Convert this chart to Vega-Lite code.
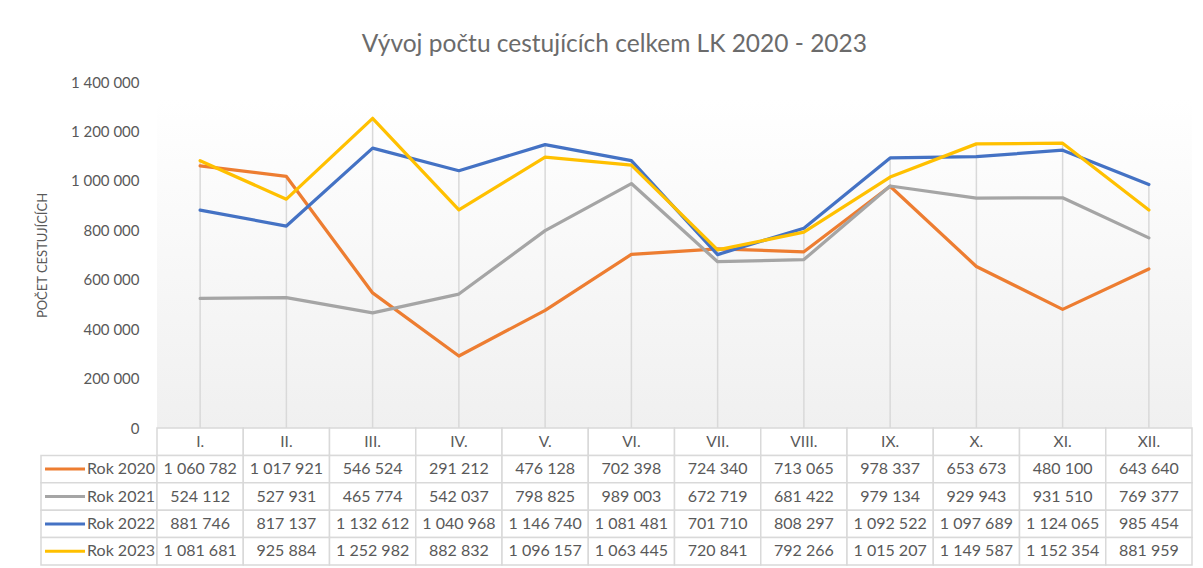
{
  "$schema": "https://vega.github.io/schema/vega-lite/v6.json",
  "padding": {"left": 36, "top": 31, "right": 5, "bottom": 0},
  "title": {"text": "Vývoj počtu cestujících celkem LK 2020  - 2023", "fontSize": 24.5, "fontWeight": "normal", "color": "#6b6b6b", "anchor": "middle", "offset": 18, "font": "Lato"},
  "config": {
    "font": "Lato",
    "view": {"stroke": null},
    "locale": {"number": {"decimal": ",", "thousands": " ", "grouping": [3], "currency": ["", ""]}}
  },
  "datasets": {
    "lk": [
      {"series": "Rok 2020", "month": "I.", "value": 1060782},
      {"series": "Rok 2020", "month": "II.", "value": 1017921},
      {"series": "Rok 2020", "month": "III.", "value": 546524},
      {"series": "Rok 2020", "month": "IV.", "value": 291212},
      {"series": "Rok 2020", "month": "V.", "value": 476128},
      {"series": "Rok 2020", "month": "VI.", "value": 702398},
      {"series": "Rok 2020", "month": "VII.", "value": 724340},
      {"series": "Rok 2020", "month": "VIII.", "value": 713065},
      {"series": "Rok 2020", "month": "IX.", "value": 978337},
      {"series": "Rok 2020", "month": "X.", "value": 653673},
      {"series": "Rok 2020", "month": "XI.", "value": 480100},
      {"series": "Rok 2020", "month": "XII.", "value": 643640},
      {"series": "Rok 2021", "month": "I.", "value": 524112},
      {"series": "Rok 2021", "month": "II.", "value": 527931},
      {"series": "Rok 2021", "month": "III.", "value": 465774},
      {"series": "Rok 2021", "month": "IV.", "value": 542037},
      {"series": "Rok 2021", "month": "V.", "value": 798825},
      {"series": "Rok 2021", "month": "VI.", "value": 989003},
      {"series": "Rok 2021", "month": "VII.", "value": 672719},
      {"series": "Rok 2021", "month": "VIII.", "value": 681422},
      {"series": "Rok 2021", "month": "IX.", "value": 979134},
      {"series": "Rok 2021", "month": "X.", "value": 929943},
      {"series": "Rok 2021", "month": "XI.", "value": 931510},
      {"series": "Rok 2021", "month": "XII.", "value": 769377},
      {"series": "Rok 2022", "month": "I.", "value": 881746},
      {"series": "Rok 2022", "month": "II.", "value": 817137},
      {"series": "Rok 2022", "month": "III.", "value": 1132612},
      {"series": "Rok 2022", "month": "IV.", "value": 1040968},
      {"series": "Rok 2022", "month": "V.", "value": 1146740},
      {"series": "Rok 2022", "month": "VI.", "value": 1081481},
      {"series": "Rok 2022", "month": "VII.", "value": 701710},
      {"series": "Rok 2022", "month": "VIII.", "value": 808297},
      {"series": "Rok 2022", "month": "IX.", "value": 1092522},
      {"series": "Rok 2022", "month": "X.", "value": 1097689},
      {"series": "Rok 2022", "month": "XI.", "value": 1124065},
      {"series": "Rok 2022", "month": "XII.", "value": 985454},
      {"series": "Rok 2023", "month": "I.", "value": 1081681},
      {"series": "Rok 2023", "month": "II.", "value": 925884},
      {"series": "Rok 2023", "month": "III.", "value": 1252982},
      {"series": "Rok 2023", "month": "IV.", "value": 882832},
      {"series": "Rok 2023", "month": "V.", "value": 1096157},
      {"series": "Rok 2023", "month": "VI.", "value": 1063445},
      {"series": "Rok 2023", "month": "VII.", "value": 720841},
      {"series": "Rok 2023", "month": "VIII.", "value": 792266},
      {"series": "Rok 2023", "month": "IX.", "value": 1015207},
      {"series": "Rok 2023", "month": "X.", "value": 1149587},
      {"series": "Rok 2023", "month": "XI.", "value": 1152354},
      {"series": "Rok 2023", "month": "XII.", "value": 881959}
    ],
    "months": [
      {"month": "I."}, {"month": "II."}, {"month": "III."}, {"month": "IV."},
      {"month": "V."}, {"month": "VI."}, {"month": "VII."}, {"month": "VIII."},
      {"month": "IX."}, {"month": "X."}, {"month": "XI."}, {"month": "XII."}
    ],
    "series": [
      {"series": "Rok 2020"}, {"series": "Rok 2021"}, {"series": "Rok 2022"}, {"series": "Rok 2023"}
    ]
  },
  "columns": 2,
  "spacing": 0,
  "bounds": "flush",
  "concat": [
    {
      "width": 116,
      "height": 346,
      "data": {"values": []},
      "mark": "point"
    },
    {
      "width": 1035,
      "height": 346,
      "data": {"name": "lk"},
      "layer": [
        {
          "transform": [{"aggregate": [{"op": "count", "as": "n"}]}],
          "mark": {
            "type": "rect",
            "fill": {"gradient": "linear", "x1": 0, "y1": 0, "x2": 0, "y2": 1,
              "stops": [{"offset": 0, "color": "#ffffff"}, {"offset": 0.05, "color": "#ffffff"}, {"offset": 1, "color": "#f0f0f0"}]}
          },
          "encoding": {
            "y": {"datum": 1400000, "type": "quantitative", "scale": {"domain": [0, 1400000], "nice": false},
              "axis": {"title": "POČET CESTUJÍCÍCH", "titleFontSize": 13, "titleColor": "#595959", "titleFontWeight": "normal", "titleX": -108,
                "labelFontSize": 15, "labelColor": "#595959", "labelPadding": 18, "ticks": false, "domain": false, "grid": false,
                "values": [0, 200000, 400000, 600000, 800000, 1000000, 1200000, 1400000], "format": ",d"}},
            "y2": {"datum": 0}
          }
        },
        {
          "transform": [{"aggregate": [{"op": "max", "field": "value", "as": "mx"}], "groupby": ["month"]}],
          "mark": {"type": "rule", "color": "#d9d9d9", "strokeWidth": 1.5},
          "encoding": {
            "x": {"field": "month", "type": "ordinal", "sort": ["I.", "II.", "III.", "IV.", "V.", "VI.", "VII.", "VIII.", "IX.", "X.", "XI.", "XII."], "scale": {"type": "point", "padding": 0.5}, "axis": null},
            "y": {"field": "mx", "type": "quantitative",
              "axis": {"title": "POČET CESTUJÍCÍCH", "titleFontSize": 13, "titleColor": "#595959", "titleFontWeight": "normal", "titleX": -108,
                "labelFontSize": 15, "labelColor": "#595959", "labelPadding": 18, "ticks": false, "domain": false, "grid": false,
                "values": [0, 200000, 400000, 600000, 800000, 1000000, 1200000, 1400000], "format": ",d"}},
            "y2": {"datum": 0}
          }
        },
        {
          "mark": {"type": "line", "strokeWidth": 3.25, "strokeJoin": "round", "strokeCap": "round"},
          "encoding": {
            "x": {"field": "month", "type": "ordinal", "sort": ["I.", "II.", "III.", "IV.", "V.", "VI.", "VII.", "VIII.", "IX.", "X.", "XI.", "XII."], "scale": {"type": "point", "padding": 0.5}, "axis": null},
            "y": {"field": "value", "type": "quantitative",
              "axis": {"title": "POČET CESTUJÍCÍCH", "titleFontSize": 13, "titleColor": "#595959", "titleFontWeight": "normal", "titleX": -108,
                "labelFontSize": 15, "labelColor": "#595959", "labelPadding": 18, "ticks": false, "domain": false, "grid": false,
                "values": [0, 200000, 400000, 600000, 800000, 1000000, 1200000, 1400000], "format": ",d"}},
            "color": {"field": "series", "type": "nominal", "scale": {"domain": ["Rok 2020", "Rok 2021", "Rok 2022", "Rok 2023"], "range": ["#ED7D31", "#A5A5A5", "#4472C4", "#FFC000"]}, "legend": null}
          }
        }
      ]
    },
    {
      "width": 116,
      "height": 137,
      "data": {"name": "series"},
      "layer": [
        {
          "mark": {"type": "rect", "fill": "#ffffff", "stroke": "#d9d9d9", "strokeWidth": 1.5},
          "encoding": {
            "y": {"field": "series", "type": "nominal", "scale": {"domain": ["hdr", "Rok 2020", "Rok 2021", "Rok 2022", "Rok 2023"], "paddingInner": 0, "paddingOuter": 0}, "axis": null}
          }
        },
        {
          "mark": {"type": "point", "shape": "M-1,0L1,0", "size": 1600, "filled": false, "strokeWidth": 3, "opacity": 1},
          "encoding": {
            "x": {"datum": 0.207, "type": "quantitative", "scale": {"domain": [0, 1]}, "axis": null},
            "y": {"field": "series", "type": "nominal", "scale": {"domain": ["hdr", "Rok 2020", "Rok 2021", "Rok 2022", "Rok 2023"], "paddingInner": 0, "paddingOuter": 0}, "axis": null},
            "color": {"field": "series", "type": "nominal", "scale": {"domain": ["Rok 2020", "Rok 2021", "Rok 2022", "Rok 2023"], "range": ["#ED7D31", "#A5A5A5", "#4472C4", "#FFC000"]}, "legend": null}
          }
        },
        {
          "mark": {"type": "text", "align": "left", "fontSize": 16, "color": "#595959"},
          "encoding": {
            "x": {"datum": 0.397, "type": "quantitative", "scale": {"domain": [0, 1]}, "axis": null},
            "y": {"field": "series", "type": "nominal", "scale": {"domain": ["hdr", "Rok 2020", "Rok 2021", "Rok 2022", "Rok 2023"], "paddingInner": 0, "paddingOuter": 0}, "axis": null},
            "text": {"field": "series"}
          }
        }
      ]
    },
    {
      "width": 1035,
      "height": 137,
      "layer": [
        {
          "data": {"name": "months"},
          "mark": {"type": "rect", "fill": "#ffffff", "stroke": "#d9d9d9", "strokeWidth": 1.5},
          "encoding": {
            "x": {"field": "month", "type": "ordinal", "sort": ["I.", "II.", "III.", "IV.", "V.", "VI.", "VII.", "VIII.", "IX.", "X.", "XI.", "XII."], "scale": {"type": "band", "paddingInner": 0, "paddingOuter": 0}, "axis": null},
            "y": {"datum": "hdr", "type": "nominal", "scale": {"domain": ["hdr", "Rok 2020", "Rok 2021", "Rok 2022", "Rok 2023"], "paddingInner": 0, "paddingOuter": 0}, "axis": null}
          }
        },
        {
          "data": {"name": "months"},
          "mark": {"type": "text", "fontSize": 15.5, "color": "#595959"},
          "encoding": {
            "x": {"field": "month", "type": "ordinal", "sort": ["I.", "II.", "III.", "IV.", "V.", "VI.", "VII.", "VIII.", "IX.", "X.", "XI.", "XII."], "scale": {"type": "band", "paddingInner": 0, "paddingOuter": 0}, "axis": null},
            "y": {"datum": "hdr", "type": "nominal", "scale": {"domain": ["hdr", "Rok 2020", "Rok 2021", "Rok 2022", "Rok 2023"], "paddingInner": 0, "paddingOuter": 0}, "axis": null},
            "text": {"field": "month"}
          }
        },
        {
          "data": {"name": "lk"},
          "mark": {"type": "rect", "fill": "#ffffff", "stroke": "#d9d9d9", "strokeWidth": 1.5},
          "encoding": {
            "x": {"field": "month", "type": "ordinal", "sort": ["I.", "II.", "III.", "IV.", "V.", "VI.", "VII.", "VIII.", "IX.", "X.", "XI.", "XII."], "scale": {"type": "band", "paddingInner": 0, "paddingOuter": 0}, "axis": null},
            "y": {"field": "series", "type": "nominal", "scale": {"domain": ["hdr", "Rok 2020", "Rok 2021", "Rok 2022", "Rok 2023"], "paddingInner": 0, "paddingOuter": 0}, "axis": null}
          }
        },
        {
          "data": {"name": "lk"},
          "mark": {"type": "text", "fontSize": 16, "color": "#595959"},
          "encoding": {
            "x": {"field": "month", "type": "ordinal", "sort": ["I.", "II.", "III.", "IV.", "V.", "VI.", "VII.", "VIII.", "IX.", "X.", "XI.", "XII."], "scale": {"type": "band", "paddingInner": 0, "paddingOuter": 0}, "axis": null},
            "y": {"field": "series", "type": "nominal", "scale": {"domain": ["hdr", "Rok 2020", "Rok 2021", "Rok 2022", "Rok 2023"], "paddingInner": 0, "paddingOuter": 0}, "axis": null},
            "text": {"field": "value", "type": "quantitative", "format": ",d"}
          }
        }
      ]
    }
  ]
}
